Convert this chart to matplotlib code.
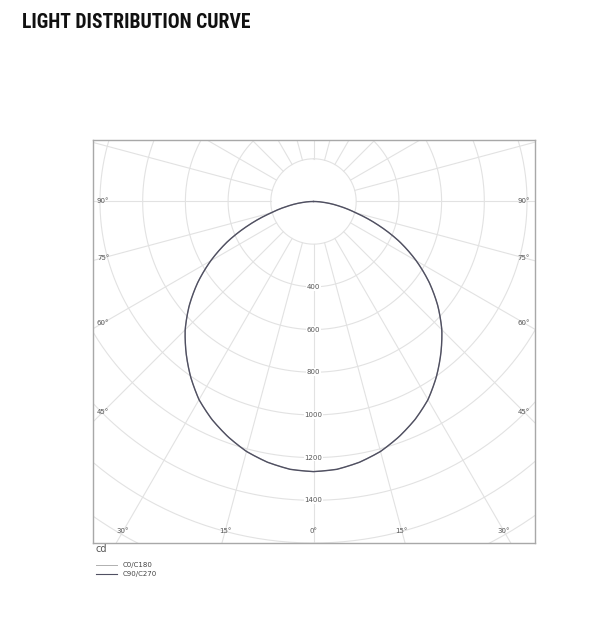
import numpy as np
import matplotlib
matplotlib.use("Agg")
import matplotlib.pyplot as plt

# Dados: intensidade (cd) por ângulo gama (graus)
gamma = [0, 5, 10, 15, 20, 25, 30, 35, 40, 45, 50, 55, 60, 65, 70, 75, 80, 85, 90]
c0_c180 = [1265, 1259, 1240, 1212, 1172, 1126, 1072, 1003, 928, 850,
           760, 662, 556, 444, 322, 205, 120, 50, 0]
c90_c270 = [1265, 1259, 1240, 1212, 1172, 1126, 1072, 1003, 928, 850,
            760, 662, 556, 444, 322, 205, 120, 50, 0]

circle_values = [200, 400, 600, 800, 1000, 1200, 1400, 1600, 1800, 2000]
value_labels = [400, 600, 800, 1000, 1200, 1400]
ray_angles = list(range(0, 360, 15))
side_labels = [45, 60, 75, 90]
bottom_labels = [0, 15, 30]

# Limites da caixa (cd) e posição em pixels
XL, YB, YT = 1035, -1600, 288
INSET_X, INSET_Y = 50, 56
W, H = 592, 620
BOX_L, BOX_R, BOX_T, BOX_B = 92.5, 534.5, 140, 543
SCALE = (BOX_R - BOX_L) / (2 * XL)   # px por cd
RMAX = 1300

fig = plt.figure(figsize=(W / 100, H / 100), dpi=100)
ax = fig.add_axes([BOX_L / W, 1 - BOX_B / H, (BOX_R - BOX_L) / W, (BOX_B - BOX_T) / H])
ax.set_xlim(-XL, XL)
ax.set_ylim(YB, YT)
ax.set_xticks([])
ax.set_yticks([])
for sp in ax.spines.values():
    sp.set_color("#a8a8a8")
    sp.set_linewidth(1.0)

grid_kw = dict(color="#e2e2e2", linewidth=0.8, zorder=1)

# Círculos
t = np.linspace(0, 2 * np.pi, 400)
for r in circle_values:
    ax.plot(r * np.sin(t), r * np.cos(t), **grid_kw)

# Raios a partir do círculo interno
for a in ray_angles:
    ar = np.radians(a)
    r0, r1 = circle_values[0], 3000
    ax.plot([r0 * np.sin(ar), r1 * np.sin(ar)],
            [-r0 * np.cos(ar), -r1 * np.cos(ar)], **grid_kw)

lab_kw = dict(fontsize=5, color="#555555", ha="center", va="center", zorder=3)

# Rótulos de ângulo nas laterais
for a in side_labels:
    ar = np.radians(a)
    x = XL - INSET_X
    y = -x / np.tan(ar) if a != 90 else 0
    ax.text(-x, y, f"{a}°", **lab_kw)
    ax.text(x, y, f"{a}°", **lab_kw)

# Rótulos de ângulo em baixo
for a in bottom_labels:
    ar = np.radians(a)
    y = YB + INSET_Y
    x = -y * np.tan(ar)
    ax.text(-x, y, f"{a}°", **lab_kw)
    if a != 0:
        ax.text(x, y, f"{a}°", **lab_kw)

# Valores de intensidade
for v in value_labels:
    ax.text(0, -v, str(v), bbox=dict(facecolor="white", edgecolor="none", pad=0.6),
            **lab_kw)

# Eixo polar sobreposto para as curvas (mesmo centro e escala)
cx = BOX_L + XL * SCALE
cy = BOX_T + YT * SCALE
rpx = RMAX * SCALE
pax = fig.add_axes([(cx - rpx) / W, 1 - (cy + rpx) / H, 2 * rpx / W, 2 * rpx / H],
                   projection="polar")
pax.set_theta_zero_location("S")
pax.set_rlim(0, RMAX)
pax.set_axis_off()


def curve(vals):
    g = np.radians(np.array(gamma, dtype=float))
    i = np.array(vals, dtype=float)
    return np.concatenate([-g[::-1], g[1:]]), np.concatenate([i[::-1], i[1:]])


th0, r0 = curve(c0_c180)
l0, = pax.plot(th0, r0, color="#b0b0b0", linewidth=0.8, zorder=4)
th9, r9 = curve(c90_c270)
l9, = pax.plot(th9, r9, color="#505062", linewidth=1.0, zorder=5)
# segmentos desenhados como arcos no espaço polar
for ln in (l0, l9):
    ln.get_path()._interpolation_steps = 30

# Título
fig.text(22 / W, 1 - 23 / H, "LIGHT DISTRIBUTION CURVE",
         family=["Roboto Condensed", "Noto Sans Condensed",
                 "Liberation Sans Narrow", "Roboto"],
         fontstretch="condensed", fontweight="bold",
         fontsize=14.1, color="#111111", ha="left", va="center")

# Legenda
fig.text(96 / W, 1 - 549 / H, "cd", fontsize=7, color="#555555",
         ha="left", va="center")
fig.add_artist(plt.Line2D([96 / W, 117 / W], [1 - 564.5 / H] * 2,
                          color="#b0b0b0", linewidth=0.7))
fig.add_artist(plt.Line2D([96 / W, 117 / W], [1 - 574 / H] * 2,
                          color="#505062", linewidth=0.8))
fig.text(123 / W, 1 - 564.5 / H, "C0/C180", fontsize=5, color="#444444",
         ha="left", va="center")
fig.text(123 / W, 1 - 574 / H, "C90/C270", fontsize=5, color="#444444",
         ha="left", va="center")

fig.savefig("out.png", dpi=100)
